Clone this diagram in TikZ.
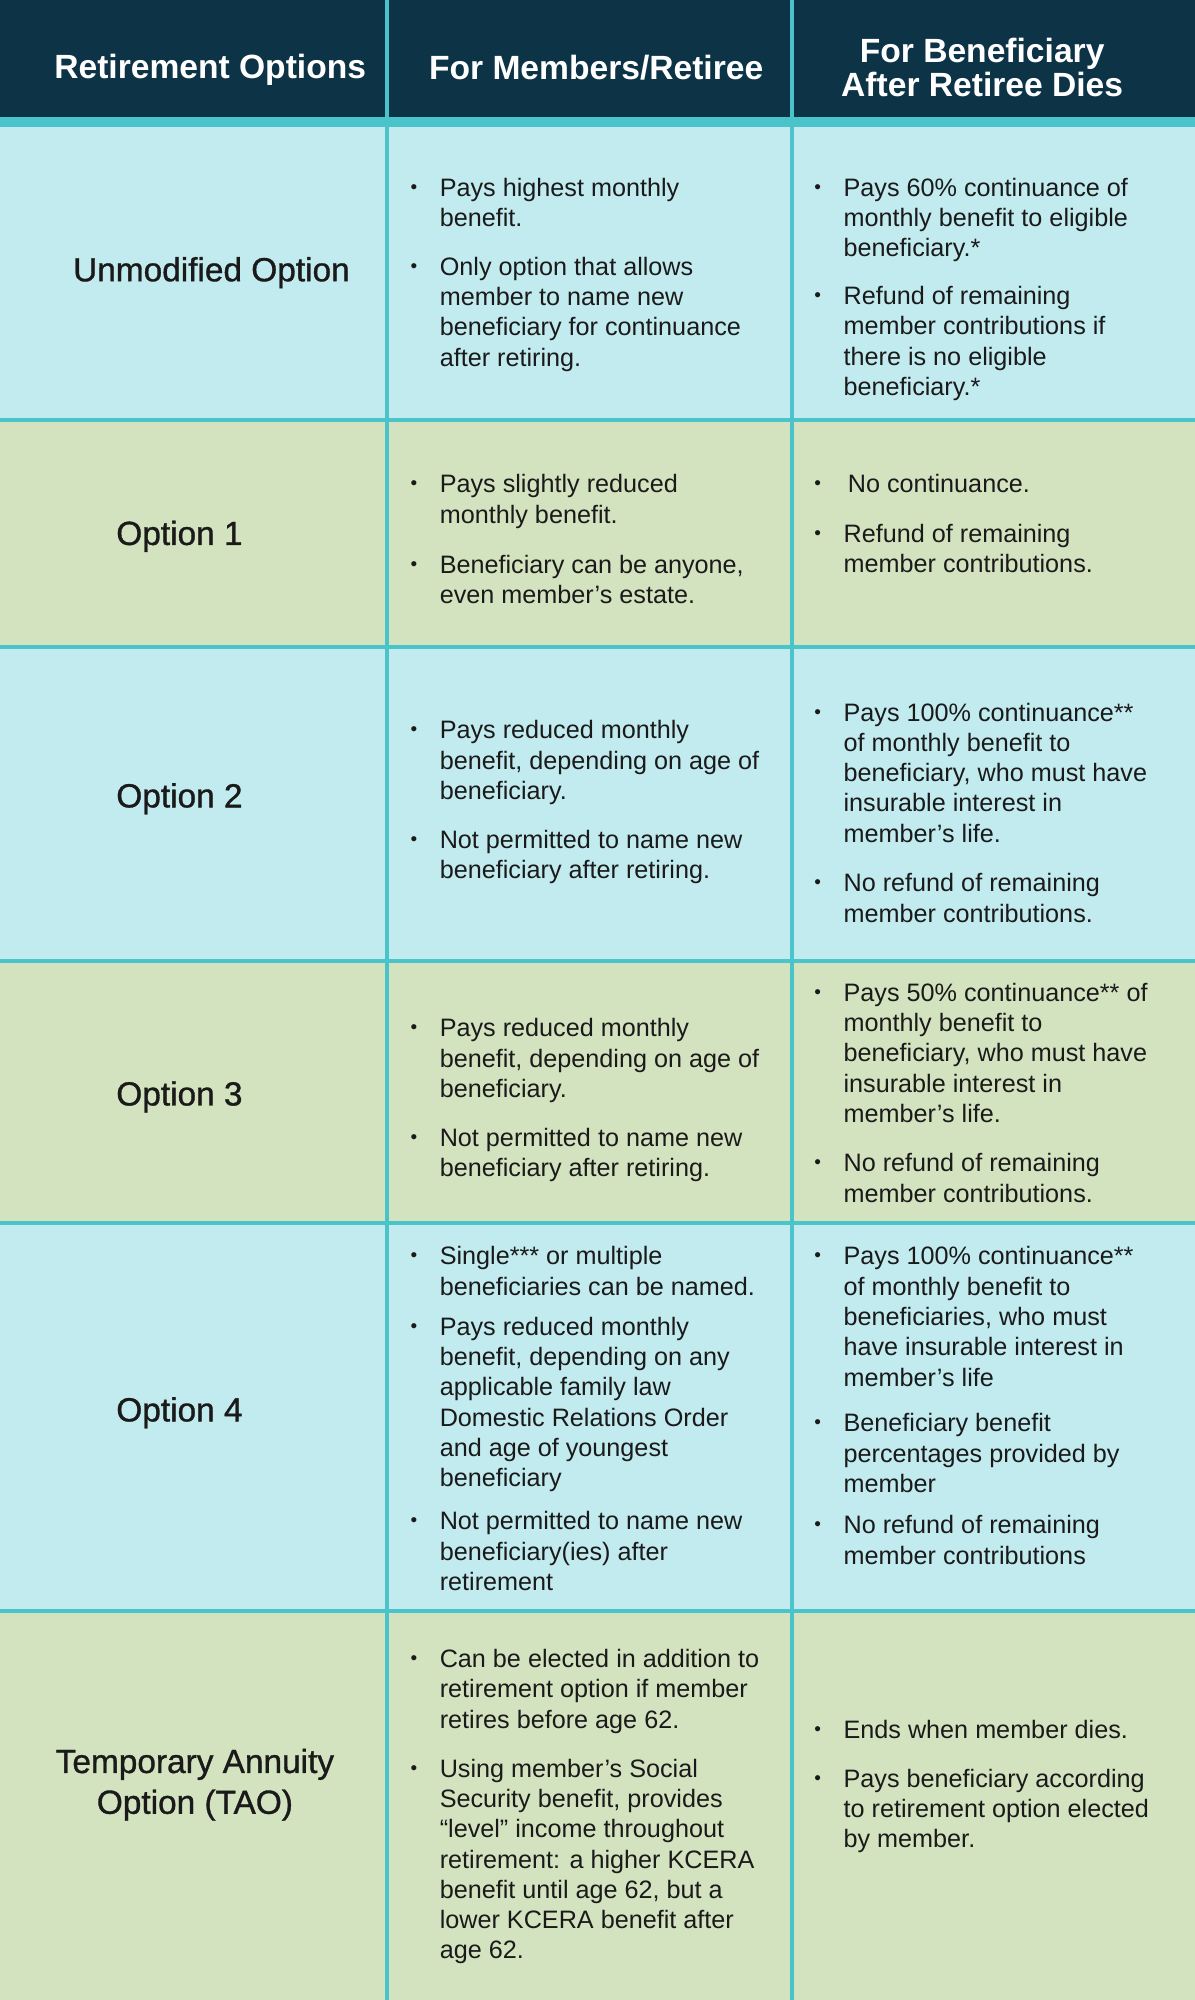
\documentclass[tikz,border=0pt]{standalone}
\usepackage{fontspec}
\setmainfont{Liberation Sans}
\newfontfamily\titlefont[FakeBold=1]{Liberation Sans}
\usepackage{tikz}
\definecolor{navy}{HTML}{0D3347}
\definecolor{tealline}{HTML}{4BC3CB}
\definecolor{rowblue}{HTML}{C2EBEF}
\definecolor{rowgreen}{HTML}{D4E3BF}
\definecolor{ink}{HTML}{1A1A1A}
\newcommand{\itm}[1]{\makebox[14.6pt][l]{\raisebox{1.5pt}{\fontsize{9.5}{9.5}\selectfont\textbullet}}\begin{tabular}[t]{@{}l@{}}#1\end{tabular}}
\tikzset{
  headtext/.style={text=white,font=\fontsize{16.8}{17.2}\selectfont\bfseries,align=center,inner sep=0},
  rowtitle/.style={text=ink,font=\fontsize{16.7}{20.4}\selectfont\titlefont,align=center,inner sep=0},
  bullettext/.style={text=ink,font=\fontsize{12.6}{15.16}\selectfont,anchor=base west,inner sep=0},
  gridline/.style={draw=tealline,line width=2pt}
}

\begin{document}
\begin{tikzpicture}[x=0.637pt,y=-0.637pt]
\useasboundingbox (0,0) rectangle (938,1570);
% backgrounds
\fill[navy] (0,0) rectangle (938,92);
\fill[tealline] (0,92) rectangle (938,100);
\fill[rowblue] (0,100) rectangle (938,330);
\fill[rowgreen] (0,330) rectangle (938,508);
\fill[rowblue] (0,508) rectangle (938,754);
\fill[rowgreen] (0,754) rectangle (938,960);
\fill[rowblue] (0,960) rectangle (938,1265);
\fill[rowgreen] (0,1265) rectangle (938,1570);
% grid
\foreach \yy in {330,508,754,960,1265} \draw[gridline] (0,\yy) -- (938,\yy);
\foreach \xx in {304,622} \draw[gridline] (\xx,0) -- (\xx,1570);

% header
\node[headtext] (H0) at (165,55) {Retirement Options};
\node[headtext] (H1) at (468,53) {For Members/Retiree};
\node[headtext] (H2) at (771,53) {For Beneficiary\\After Retiree Dies};

% unmodified
\node[rowtitle] (T0) at (166,214) {Unmodified Option};
\node[bullettext] (M01) at (322,154) {\itm{Pays highest monthly\\benefit.}};
\node[bullettext] (M02) at (322,216) {\itm{Only option that allows\\member to name new\\beneficiary for continuance\\after retiring.}};
\node[bullettext] (B01) at (639,154) {\itm{Pays 60\% continuance of\\monthly benefit to eligible\\beneficiary.*}};
\node[bullettext] (B02) at (639,239) {\itm{Refund of remaining\\member contributions if\\there is no eligible\\beneficiary.*}};

% option 1
\node[rowtitle,anchor=west] (T1) at (91,421) {Option 1};
\node[bullettext] (M11) at (322,387) {\itm{Pays slightly reduced\\monthly benefit.}};
\node[bullettext] (M12) at (322,450) {\itm{Beneficiary can be anyone,\\even member’s estate.}};
\node[bullettext] (B11) at (639,387) {\itm{\,No continuance.}};
\node[bullettext] (B12) at (639,426) {\itm{Refund of remaining\\member contributions.}};

% option 2
\node[rowtitle,anchor=west] (T2) at (91,627) {Option 2};
\node[bullettext] (M21) at (322,580) {\itm{Pays reduced monthly\\benefit, depending on age of\\beneficiary.}};
\node[bullettext] (M22) at (322,666) {\itm{Not permitted to name new\\beneficiary after retiring.}};
\node[bullettext] (B21) at (639,566) {\itm{Pays 100\% continuance**\\of monthly benefit to\\beneficiary, who must have\\insurable interest in\\member’s life.}};
\node[bullettext] (B22) at (639,700) {\itm{No refund of remaining\\member contributions.}};

% option 3
\node[rowtitle,anchor=west] (T3) at (91,861) {Option 3};
\node[bullettext] (M31) at (322,814) {\itm{Pays reduced monthly\\benefit, depending on age of\\beneficiary.}};
\node[bullettext] (M32) at (322,900) {\itm{Not permitted to name new\\beneficiary after retiring.}};
\node[bullettext] (B31) at (639,786) {\itm{Pays 50\% continuance** of\\monthly benefit to\\beneficiary, who must have\\insurable interest in\\member’s life.}};
\node[bullettext] (B32) at (639,920) {\itm{No refund of remaining\\member contributions.}};

% option 4
\node[rowtitle,anchor=west] (T4) at (91,1109) {Option 4};
\node[bullettext] (M41) at (322,993) {\itm{Single*** or multiple\\beneficiaries can be named.}};
\node[bullettext] (M42) at (322,1048) {\itm{Pays reduced monthly\\benefit, depending on any\\applicable family law\\Domestic Relations Order\\and age of youngest\\beneficiary}};
\node[bullettext] (M43) at (322,1201) {\itm{Not permitted to name new\\beneficiary(ies) after\\retirement}};
\node[bullettext] (B41) at (639,993) {\itm{Pays 100\% continuance**\\of monthly benefit to\\beneficiaries, who must\\have insurable interest in\\member’s life}};
\node[bullettext] (B42) at (639,1124) {\itm{Beneficiary benefit\\percentages provided by\\member}};
\node[bullettext] (B43) at (639,1204) {\itm{No refund of remaining\\member contributions}};

% TAO
\node[rowtitle] (T5) at (153,1401) {Temporary Annuity\\Option (TAO)};
\node[bullettext] (M51) at (322,1309) {\itm{Can be elected in addition to\\retirement option if member\\retires before age 62.}};
\node[bullettext] (M52) at (322,1395) {\itm{Using member’s Social\\Security benefit, provides\\“level” income throughout\\retirement: a higher KCERA\\benefit until age 62, but a\\lower KCERA benefit after\\age 62.}};
\node[bullettext] (B51) at (639,1365) {\itm{Ends when member dies.}};
\node[bullettext] (B52) at (639,1403) {\itm{Pays beneficiary according\\to retirement option elected\\by member.}};
\end{tikzpicture}
\end{document}
